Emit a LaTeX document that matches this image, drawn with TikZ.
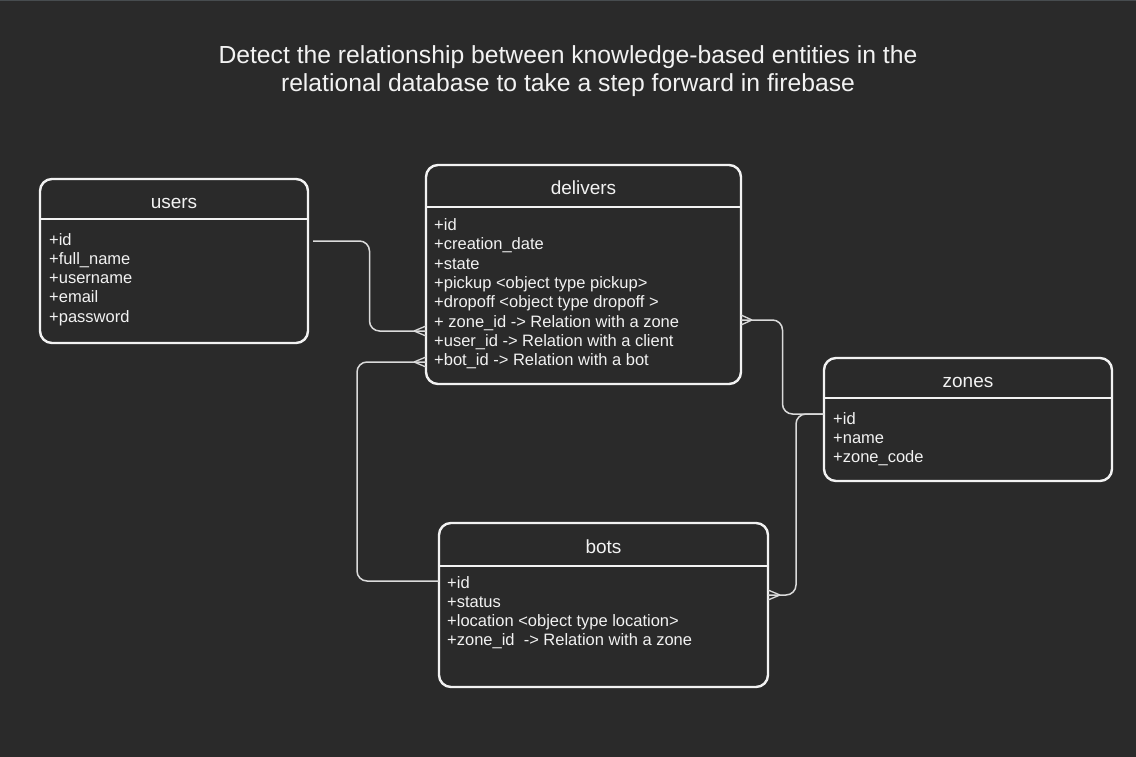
\documentclass[tikz,border=0pt]{standalone}
\usepackage{fontspec}
\setmainfont{Liberation Sans}
\usetikzlibrary{calc}
\definecolor{bg}{HTML}{2A2A2A}
\definecolor{topline}{HTML}{474C4F}
\definecolor{fg}{HTML}{F2F2F2}
\definecolor{cn}{HTML}{DADADA}
\tikzset{
  entity/.style={draw=fg, line width=2.4pt, rounded corners=12pt, anchor=north west, inner sep=0pt, outer sep=0pt},
  hdr/.style={draw=fg, line width=2.4pt},
  ttl/.style={text=fg, font=\fontsize{19}{22}\selectfont, anchor=base},
  row/.style={text=fg, font=\fontsize{16.5}{19}\selectfont, anchor=base west, inner sep=0pt},
  conn/.style={draw=cn, line width=1.5pt, rounded corners=10pt},
  crowl/.style={draw=cn, line width=1.3pt},
}
\newcommand\crowfoot[2]{%
  \draw[crowl] ($(#1)+(#2,0)$) -- ($(#1)+(0,5)$);
  \draw[crowl] ($(#1)+(#2,0)$) -- ($(#1)+(0,-5)$);}
\begin{document}
\begin{tikzpicture}[x=1pt,y=-1pt]
\fill[bg] (0,0) rectangle (1136,757);
\fill[topline] (0,0) rectangle (1136,1.5);
\useasboundingbox (0,0) rectangle (1136,757);

% title
\node[text=fg, font=\fontsize{24.7}{28}\selectfont, align=center, anchor=base] (title) at (568,92)
  {Detect the relationship between knowledge-based entities in the\\relational database to take a step forward in firebase};

% users
\node[entity, minimum width=268pt, minimum height=164pt] (users) at (40,179) {};
\draw[hdr] ($(users.north west)+(0,40)$) -- ($(users.north east)+(0,40)$);
\node[ttl] (usersT) at (174,208) {users};
\node[row] (u1) at (49,245) {+id};
\node[row] (u2) at (49,264.3) {+full\_name};
\node[row] (u3) at (49,283.6) {+username};
\node[row] (u4) at (49,302.9) {+email};
\node[row] (u5) at (49,322.2) {+password};

% delivers
\node[entity, minimum width=315pt, minimum height=219pt] (delivers) at (426,165) {};
\draw[hdr] ($(delivers.north west)+(0,42)$) -- ($(delivers.north east)+(0,42)$);
\node[ttl] (deliversT) at (583.5,194) {delivers};
\node[row] (d1) at (434,230.5) {+id};
\node[row] (d2) at (434,249.8) {+creation\_date};
\node[row] (d3) at (434,269.1) {+state};
\node[row] (d4) at (434,288.4) {+pickup <object type pickup>};
\node[row] (d5) at (434,307.7) {+dropoff <object type dropoff >};
\node[row] (d6) at (434,327.0) {+ zone\_id -> Relation with a zone};
\node[row] (d7) at (434,346.3) {+user\_id -> Relation with a client};
\node[row] (d8) at (434,365.6) {+bot\_id -> Relation with a bot};

% zones
\node[entity, minimum width=288pt, minimum height=123pt] (zones) at (824,358) {};
\draw[hdr] ($(zones.north west)+(0,40)$) -- ($(zones.north east)+(0,40)$);
\node[ttl] (zonesT) at (968,387) {zones};
\node[row] (z1) at (833,424) {+id};
\node[row] (z2) at (833,443.3) {+name};
\node[row] (z3) at (833,462.6) {+zone\_code};

% bots
\node[entity, minimum width=329pt, minimum height=164pt] (bots) at (439,523) {};
\draw[hdr] ($(bots.north west)+(0,43)$) -- ($(bots.north east)+(0,43)$);
\node[ttl] (botsT) at (603.5,553) {bots};
\node[row] (b1) at (447,588) {+id};
\node[row] (b2) at (447,607.3) {+status};
\node[row] (b3) at (447,626.6) {+location <object type location>};
\node[row] (b4) at (447,645.9) {+zone\_id \ -> Relation with a zone};

% connector anchors
\coordinate (c1s) at ($(users.north east)+(5,62)$);
\coordinate (c1e) at ($(delivers.north west)+(0,166)$);
\coordinate (c2s) at ($(bots.north west)+(0,58)$);
\coordinate (c2e) at ($(delivers.north west)+(0,197)$);
\coordinate (c3s) at ($(delivers.north east)+(0,155)$);
\coordinate (c3e) at ($(zones.north west)+(0,56)$);
\coordinate (c4s) at ($(zones.north west)+(0,56)$);
\coordinate (c4e) at ($(bots.north east)+(0,72)$);

% users -- delivers
\draw[conn] (c1s) -| ($(c1s)!.5!(c1e)$) |- (c1e);
\crowfoot{c1e}{-12}
% bots -- delivers
\draw[conn] (c2s) -- ++(-82,0) |- (c2e);
\crowfoot{c2e}{-12}
% delivers -- zones
\draw[conn] (c3s) -| ($(c3s)!.5!(c3e)$) |- (c3e);
\crowfoot{c3s}{11}
% zones -- bots
\draw[conn] (c4s) -| ($(c4s)!.5!(c4e)$) |- (c4e);
\crowfoot{c4e}{12}
\end{tikzpicture}
\end{document}
